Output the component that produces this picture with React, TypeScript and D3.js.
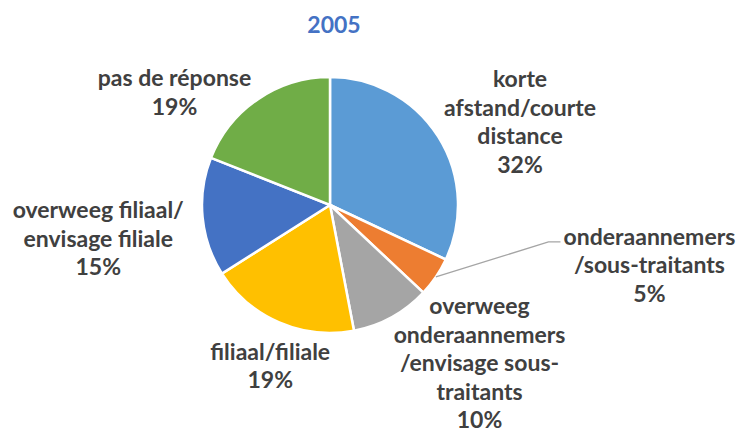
import React from 'react';
import * as d3 from 'd3';

const title = '2005';
const categories = [
  ['korte', 'afstand/courte', 'distance'],
  ['onderaannemers', '/sous-traitants'],
  ['overweeg', 'onderaannemers', '/envisage sous-', 'traitants'],
  ['filiaal/filiale'],
  ['overweeg filiaal/', 'envisage filiale'],
  ['pas de réponse'],
];
const values = [32, 5, 10, 19, 15, 19];
const colors = ['#5B9BD5', '#ED7D31', '#A5A5A5', '#FFC000', '#4472C4', '#70AD47'];

// label placement: angle (deg, clockwise from top) and distance in radii
const labelAngle = [66.4, 100.7, 136.6, 200.4, 261.7, 305.9];
const labelDist = [1.62, 2.54, 1.7, 1.34, 1.83, 1.5];
const hasLeader = [false, true, false, false, false, false];

const W = 738;
const H = 438;
const cx = 330;
const cy = 205;
const R = 128;
const lineH = 28.5;

export default function App() {
  const pie = d3.pie<number>().sort(null).value((d) => d);
  const arcs = pie(values);
  const arc = d3.arc<d3.PieArcDatum<number>>().innerRadius(0).outerRadius(R);
  const total = d3.sum(values);

  return (
    <svg width={W} height={H} style={{ position: 'absolute', left: 0, top: 0, fontFamily: 'Lato, sans-serif' }}>
      <rect width={W} height={H} fill="#fff" />
      <text x={334} y={33} textAnchor="middle" fontSize={23} fontWeight="bold" fill="#4472C4">
        {title}
      </text>
      <g transform={`translate(${cx},${cy})`}>
        {arcs.map((a, i) => (
          <path key={i} d={arc(a) || ''} fill={colors[i]} stroke="#fff" strokeWidth={2.5} />
        ))}
        {arcs.map((a, i) => {
          const ang = (labelAngle[i] * Math.PI) / 180;
          const lx = Math.sin(ang) * R * labelDist[i];
          const ly = -Math.cos(ang) * R * labelDist[i];
          const lines = [...categories[i], `${Math.round((values[i] / total) * 100)}%`];
          const n = lines.length;
          let leader = null;
          if (hasLeader[i]) {
            const mid = (a.startAngle + a.endAngle) / 2;
            const x0 = Math.sin(mid) * R;
            const y0 = -Math.cos(mid) * R;
            const yTop = ly - ((n - 1) / 2) * lineH + 5;
            const xEnd = lx - 89;
            leader = (
              <polyline
                points={`${x0},${y0} ${xEnd - 12},${yTop} ${xEnd},${yTop}`}
                fill="none"
                stroke="#A5A5A5"
                strokeWidth={1.3}
              />
            );
          }
          return (
            <g key={'l' + i}>
              {leader}
              <text textAnchor="middle" fontSize={23} fontWeight="bold" fill="#404040">
                {lines.map((t, j) => (
                  <tspan key={j} x={lx} y={ly + (j - (n - 1) / 2) * lineH} dy="0.35em">
                    {t}
                  </tspan>
                ))}
              </text>
            </g>
          );
        })}
      </g>
    </svg>
  );
}
